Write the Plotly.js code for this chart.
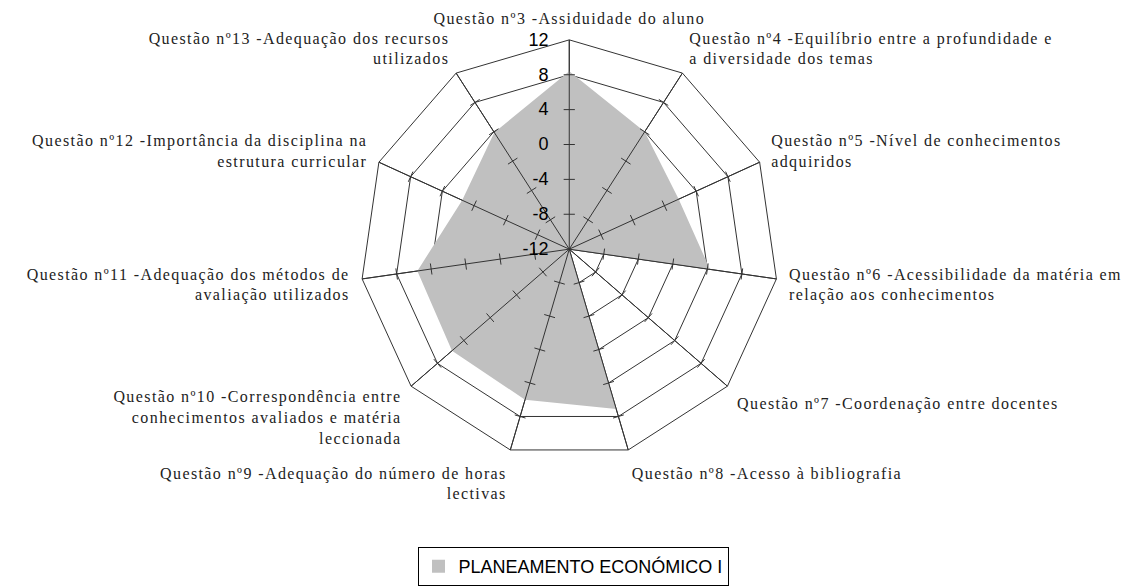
<!DOCTYPE html>
<html>
<head>
<meta charset="utf-8">
<script src="https://cdn.plot.ly/plotly-3.0.1.min.js"></script>
<style>
html, body { margin: 0; padding: 0; background: #ffffff; }
#chart { width: 1134px; height: 586px; }
.angularaxistick text { letter-spacing: 1.4px; }
</style>
</head>
<body>
<div id="chart"></div>
<script>
// ---- data ----
const categories = [
  "Questão nº3 -Assiduidade do aluno",
  "Questão nº4 -Equilíbrio entre a profundidade e<br>a diversidade dos temas",
  "Questão nº5 -Nível de conhecimentos<br>adquiridos",
  "Questão nº6 -Acessibilidade da matéria em<br>relação aos conhecimentos",
  "Questão nº7 -Coordenação entre docentes",
  "Questão nº8 -Acesso à bibliografia",
  "Questão nº9 -Adequação do número de horas<br>lectivas",
  "Questão nº10 -Correspondência entre<br>conhecimentos avaliados e matéria<br>leccionada",
  "Questão nº11 -Adequação dos métodos de<br>avaliação utilizados",
  "Questão nº12 -Importância da disciplina na<br>estrutura curricular",
  "Questão nº13 -Adequação dos recursos<br>utilizados"
];
const planeamentoValues = [8.4, 4.0, 1.8, 4.3, -12, 7.1, 6.0, 5.8, 5.6, 1.5, 3.9];
const seriesName = "PLANEAMENTO ECONÓMICO I";
const radialTicks = [-12, -8, -4, 0, 4, 8, 12];
const radialTickText = ["-12", "-8", "-4", "0", "4", "8", "12"];
const radialRange = [-12, 12];

// ---- derived traces ----
const gridColor = "#333333";
const n = categories.length;

const fillTrace = {
  type: "scatterpolar",
  r: planeamentoValues.concat([planeamentoValues[0]]),
  theta: categories.concat([categories[0]]),
  mode: "lines",
  fill: "toself",
  fillcolor: "#c0c0c0",
  line: { width: 0, color: "#c0c0c0" },
  cliponaxis: true,
  showlegend: false,
  hoverinfo: "skip"
};

// spokes drawn over the fill (as in the original)
const spokeR = [], spokeT = [];
categories.forEach(c => {
  spokeR.push(radialRange[0], radialRange[1], null);
  spokeT.push(c, c, null);
});
const spokeTrace = {
  type: "scatterpolar",
  r: spokeR, theta: spokeT,
  mode: "lines",
  line: { color: gridColor, width: 1 },
  cliponaxis: true,
  showlegend: false,
  hoverinfo: "skip"
};

// small tick marks across each spoke at each ring
const tickR = [], tickT = [], tickA = [];
categories.forEach((c, i) => {
  radialTicks.slice(1, -1).forEach(v => {
    tickR.push(v); tickT.push(c); tickA.push(i * 360 / n);
  });
});
const tickTrace = {
  type: "scatterpolar",
  r: tickR, theta: tickT,
  mode: "markers",
  cliponaxis: true,
  marker: { symbol: "line-ew", size: 8, angle: tickA, color: gridColor, line: { color: gridColor, width: 1 } },
  showlegend: false,
  hoverinfo: "skip"
};

const legendTrace = {
  type: "scatterpolar",
  r: [null], theta: [categories[0]],
  mode: "markers",
  name: seriesName,
  cliponaxis: true,
  marker: { symbol: "square", size: 13, color: "#c0c0c0" },
  showlegend: true,
  hoverinfo: "skip"
};

const layout = {
  width: 1134, height: 586,
  margin: { l: 0, r: 0, t: 0, b: 0 },
  paper_bgcolor: "#ffffff",
  showlegend: true,
  polar: {
    domain: { x: [0.004, 1], y: [1 - 460 / 586, 1 - 40 / 586] },
    bgcolor: "#ffffff",
    gridshape: "linear",
    angularaxis: {
      type: "category",
      direction: "clockwise",
      rotation: 90,
      showline: true, linecolor: gridColor, linewidth: 1,
      showgrid: true, gridcolor: gridColor, gridwidth: 1,
      ticks: "outside", ticklen: 9, tickcolor: "rgba(0,0,0,0)",
      tickfont: { family: "Liberation Serif", size: 16, color: "#222222" }
    },
    radialaxis: {
      range: radialRange,
      tickmode: "array", tickvals: radialTicks, ticktext: radialTickText,
      angle: 90, side: "counterclockwise", tickangle: 90,
      showline: false, ticks: "outside", ticklen: 14, tickcolor: "rgba(0,0,0,0)",
      showgrid: true, gridcolor: gridColor, gridwidth: 1,
      tickfont: { family: "Liberation Sans", size: 18, color: "#000000" }
    }
  },
  legend: {
    orientation: "h",
    x: 573 / 1134, xanchor: "center",
    y: 1 - 549 / 586, yanchor: "top",
    bordercolor: "#000000", borderwidth: 1,
    bgcolor: "#ffffff",
    font: { family: "Liberation Sans", size: 18, color: "#000000" }
  }
};

Plotly.newPlot("chart", [fillTrace, spokeTrace, tickTrace, legendTrace], layout, { displayModeBar: false, staticPlot: true });
</script>
</body>
</html>
